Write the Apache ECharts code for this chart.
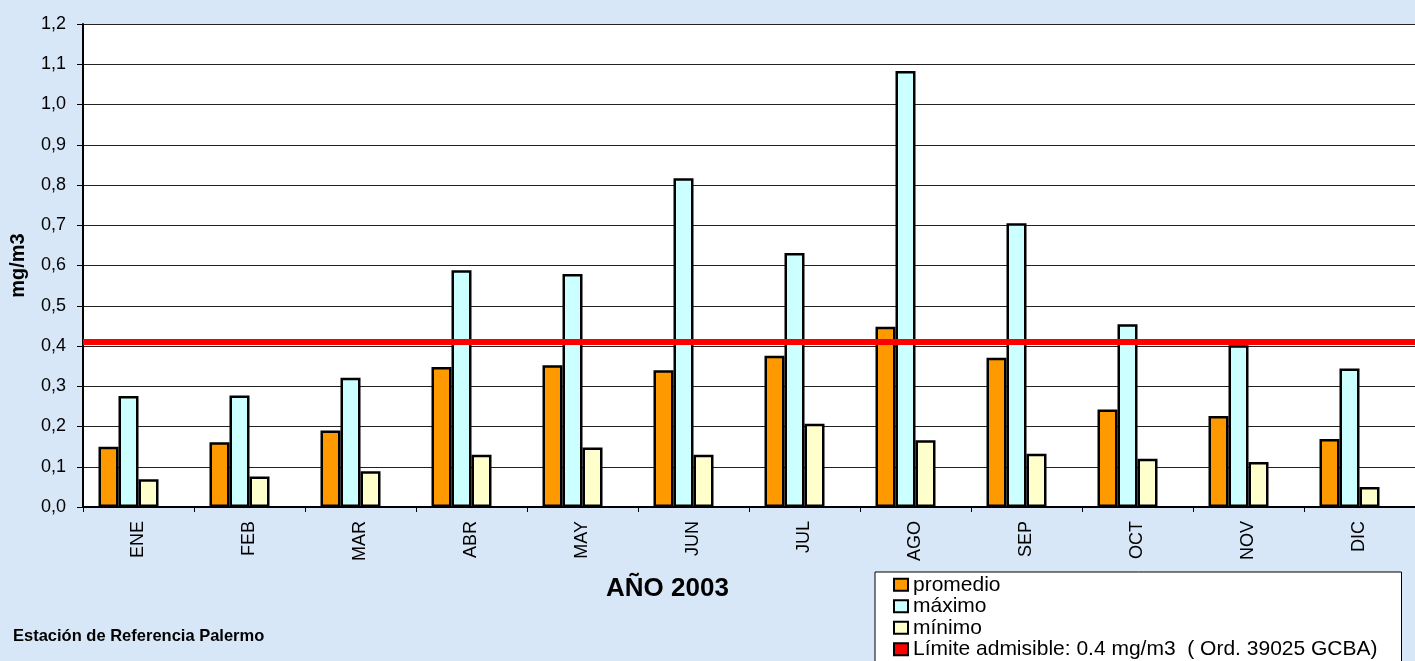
<!DOCTYPE html>
<html>
<head>
<meta charset="utf-8">
<script src="https://cdn.jsdelivr.net/npm/echarts@6/dist/echarts.min.js"></script>
<style>
  html, body { margin: 0; padding: 0; background: #d8e7f8; }
  #chart { width: 1415px; height: 661px; }
</style>
</head>
<body>
<div id="chart"></div>
<script>
const months = ['ENE', 'FEB', 'MAR', 'ABR', 'MAY', 'JUN', 'JUL', 'AGO', 'SEP', 'OCT', 'NOV', 'DIC'];
const promedio = [0.150, 0.161, 0.190, 0.348, 0.352, 0.340, 0.376, 0.448, 0.371, 0.242, 0.226, 0.169];
const maximo   = [0.276, 0.277, 0.321, 0.588, 0.579, 0.817, 0.631, 1.083, 0.705, 0.454, 0.402, 0.344];
const minimo   = [0.069, 0.076, 0.089, 0.130, 0.148, 0.130, 0.207, 0.166, 0.132, 0.120, 0.112, 0.050];
const limiteNivel = 0.412;
const seriesNames = ['promedio', 'máximo', 'mínimo', 'Límite admisible: 0.4 mg/m3  ( Ord. 39025 GCBA)'];
const yTicks = { min: 0, max: 1.2, interval: 0.1 };

const chart = echarts.init(document.getElementById('chart'), null, { renderer: 'canvas' });
const FONT = 'Liberation Sans, Arial, sans-serif';
const barBase = { type: 'bar', barWidth: 20, barGap: '0%', animation: false };

chart.setOption({
  backgroundColor: '#d8e7f8',
  textStyle: { fontFamily: FONT, color: '#000' },
  title: [
    { text: 'AÑO 2003', left: 606, top: 576, padding: 0,
      textStyle: { fontSize: 26, fontWeight: 'bold', color: '#000', fontFamily: FONT } },
    { text: 'Estación de Referencia Palermo', left: 13, top: 628, padding: 0,
      textStyle: { fontSize: 16.5, fontWeight: 'bold', color: '#000', fontFamily: FONT } }
  ],
  legend: {
    orient: 'vertical', left: 875, top: 572, height: 140,
    padding: [2, 24, 12, 18],
    backgroundColor: '#fff', borderColor: '#000', borderWidth: 1,
    itemWidth: 14, itemHeight: 12, itemGap: 0,
    icon: 'rect',
    textStyle: { fontSize: 21, lineHeight: 21.5, color: '#000', fontFamily: FONT },
    data: seriesNames
  },
  grid: { left: 82, top: 24, right: -4, bottom: 154, show: true, backgroundColor: '#fff', borderWidth: 0 },
  xAxis: {
    type: 'category', data: months,
    axisLine: { lineStyle: { color: '#000', width: 2 } },
    axisTick: { show: true, length: 5, lineStyle: { color: '#000', width: 1 } },
    axisLabel: { rotate: 90, margin: 14, fontSize: 18, color: '#000', fontFamily: FONT }
  },
  yAxis: {
    type: 'value', min: yTicks.min, max: yTicks.max, interval: yTicks.interval,
    name: 'mg/m3', nameLocation: 'middle', nameGap: 55,
    nameTextStyle: { fontSize: 20, fontWeight: 'bold', color: '#000', fontFamily: FONT },
    axisLine: { show: true, lineStyle: { color: '#000', width: 2 } },
    axisTick: { show: true, length: 6, lineStyle: { color: '#000', width: 1 } },
    axisLabel: { margin: 17, fontSize: 18, color: '#000', fontFamily: FONT,
      formatter: v => (Math.round(v * 10) / 10).toFixed(1).replace('.', ',') },
    splitLine: { show: true, lineStyle: { color: '#222', width: 1 } }
  },
  series: [
    Object.assign({}, barBase, { name: seriesNames[0], data: promedio,
      itemStyle: { color: '#ff9900', borderColor: '#000', borderWidth: 2.5 } }),
    Object.assign({}, barBase, { name: seriesNames[1], data: maximo,
      itemStyle: { color: '#ccffff', borderColor: '#000', borderWidth: 2.5 } }),
    Object.assign({}, barBase, { name: seriesNames[2], data: minimo,
      itemStyle: { color: '#ffffcc', borderColor: '#000', borderWidth: 2.5 } }),
    Object.assign({}, barBase, { name: seriesNames[3], data: months.map(() => null),
      itemStyle: { color: '#ff0000', borderColor: '#000', borderWidth: 2.5 },
      markLine: { silent: true, symbol: ['none', 'none'], animation: false,
        label: { show: false },
        lineStyle: { color: '#ff0000', width: 6, type: 'solid' },
        data: [{ yAxis: limiteNivel }] } })
  ]
});
</script>
</body>
</html>
